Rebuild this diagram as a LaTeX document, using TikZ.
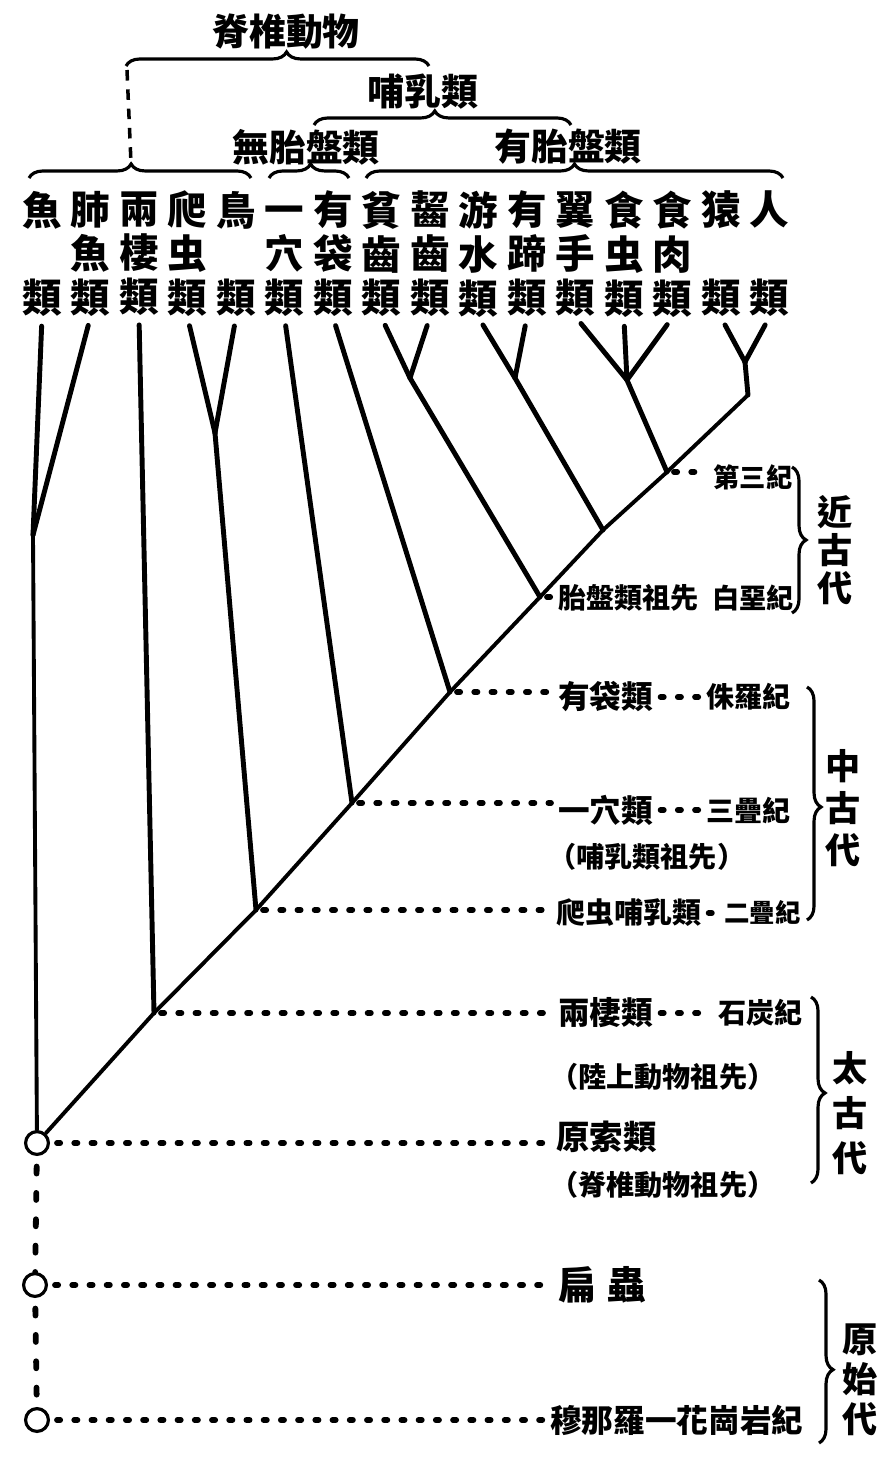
\documentclass[tikz,border=0pt]{standalone}
\usepackage{fontspec}
\newfontfamily\cjk{Noto Sans CJK TC}
\usetikzlibrary{positioning,decorations.pathreplacing}

\begin{document}
\begin{tikzpicture}[x=0.02cm,y=-0.02cm,node distance=0.97cm,
    class/.style={font=\cjk\bfseries\fontsize{22.5}{25}\selectfont,align=center,inner sep=0pt},
    heading/.style={font=\cjk\bfseries\fontsize{21}{23}\selectfont,inner sep=0pt},
    note/.style={font=\cjk\bfseries\fontsize{#1}{19}\selectfont,inner sep=0pt,anchor=west},
    era/.style={font=\cjk\bfseries\fontsize{20}{#1}\selectfont,align=center,inner sep=0pt},
    branch/.style={line width=2.8pt,line cap=round,shorten <=5pt},
    trunk/.style={line width=2.2pt,line cap=round},
    leader/.style={line width=3.3pt,line cap=round,dash pattern=on 1.8pt off 8pt,shorten <=4pt,shorten >=4pt},
    vdash/.style={line width=3.3pt,line cap=round,dash pattern=on 4pt off 11pt,shorten <=6pt},
    bracket/.style={decorate,line width=1.8pt,decoration={brace,amplitude=8pt,aspect=#1}},
    hub/.style={circle,draw,line width=1.8pt,fill=white,minimum size=13pt,inner sep=0pt}]

  \useasboundingbox (0,0) rectangle (896,1461);

  % groups over the classes
  \node[heading] (vertebrata) at (286,32) {脊椎動物};
  \node[heading] (mammalia) at (423,92) {哺乳類};
  \node[heading] (aplacental) at (306,147) {無胎盤類};
  \node[heading] (placental) at (568,147) {有胎盤類};
  \draw[bracket=0.53] (126,66) -- (429,66);
  \draw[bracket=0.47] (314,125) -- (571,125);
  \draw[bracket=0.46] (29,178) -- (251,178);
  \draw[bracket=0.52] (269,178) -- (349,178);
  \draw[bracket=0.5] (366,178) -- (783,178);
  \coordinate (vtop) at (127,70);
  \coordinate (vbot) at (131,163);
  \draw[line width=2pt,dash pattern=on 6pt off 5pt] (vtop) -- (vbot);

  % the classes
  \node[class] (fish) at (42,254) {魚\\\phantom{類}\\類};
  \node[class] (lungfish) [right of=fish] {肺\\魚\\類};
  \node[class] (amphibian) [right of=lungfish] {兩\\棲\\類};
  \node[class] (reptile) [right of=amphibian] {爬\\虫\\類};
  \node[class] (bird) [right of=reptile] {鳥\\\phantom{類}\\類};
  \node[class] (monotreme) [right of=bird] {\vphantom{類}一\\穴\\類};
  \node[class] (marsupial) [right of=monotreme] {有\\袋\\類};
  \node[class] (edentate) [right of=marsupial] {貧\\齒\\類};
  \node[class] (rodent) [right of=edentate] {齧\\齒\\類};
  \node[class] (cetacean) [right of=rodent] {游\\水\\類};
  \node[class] (ungulate) [right of=cetacean] {有\\蹄\\類};
  \node[class] (chiroptera) [right of=ungulate] {翼\\手\\類};
  \node[class] (insectivore) [right of=chiroptera] {食\\虫\\類};
  \node[class] (carnivore) [right of=insectivore] {食\\肉\\類};
  \node[class] (ape) [right of=carnivore] {猿\\\phantom{類}\\類};
  \node[class] (human) [right of=ape] {人\\\phantom{類}\\類};

  % forks and the trunk
  \coordinate (fishfork) at (33,535);
  \coordinate (reptfork) at (215,433);
  \coordinate (gliresfork) at (410,378);
  \coordinate (ungfork) at (515,378);
  \coordinate (insectfork) at (627,380);
  \coordinate (primfork) at (745,362);
  \coordinate (d0) at (748,395);
  \coordinate (d1) at (667,472);
  \coordinate (d2) at (603,530);
  \coordinate (d3) at (540,597);
  \coordinate (d4) at (450,692);
  \coordinate (d5) at (352,803);
  \coordinate (d6) at (256,910);
  \coordinate (d7) at (154,1013);
  \node[hub] (root) at (37,1143) {};
  \node[hub] (flatroot) at (35,1285) {};
  \node[hub] (archroot) at (37,1420) {};

  \draw[branch] (fish.south) -- (fishfork);
  \draw[branch] (lungfish.south) -- (fishfork);
  \draw[trunk] (fishfork) -- (root);
  \draw[branch] (amphibian.south) -- (d7);
  \draw[branch] (reptile.south) -- (reptfork);
  \draw[branch] (bird.south) -- (reptfork);
  \draw[branch,shorten <=0pt] (reptfork) -- (d6);
  \draw[branch] (monotreme.south) -- (d5);
  \draw[branch] (marsupial.south) -- (d4);
  \draw[branch] (edentate.south) -- (gliresfork);
  \draw[branch] (rodent.south) -- (gliresfork);
  \draw[branch,shorten <=0pt] (gliresfork) -- (d3);
  \draw[branch] (cetacean.south) -- (ungfork);
  \draw[branch] (ungulate.south) -- (ungfork);
  \draw[branch,shorten <=0pt] (ungfork) -- (d2);
  \draw[branch] (chiroptera.south) -- (insectfork);
  \draw[branch] (insectivore.south) -- (insectfork);
  \draw[branch] (carnivore.south) -- (insectfork);
  \draw[branch,shorten <=0pt] (insectfork) -- (d1);
  \draw[branch] (ape.south) -- (primfork);
  \draw[branch] (human.south) -- (primfork);
  \draw[branch,shorten <=0pt] (primfork) -- (d0);
  \draw[trunk] (d0) -- (d1) -- (d2) -- (d3) -- (d4) -- (d5) -- (d6) -- (d7) -- (root);
  \draw[vdash] (root) -- (flatroot);
  \draw[vdash] (flatroot) -- (archroot);

  % ancestors and periods
  \node[note=15] (tertiary) at (713,477) {第三紀};
  \node[note=16] (eutheria) at (558,598) {胎盤類祖先};
  \node[note=15.5] (cretaceous) at (712,598) {白堊紀};
  \node[note=18] (marsup) at (558,697) {有袋類};
  \node[note=16] (jurassic) at (706,697) {侏羅紀};
  \node[note=18] (monot) at (558,810) {一穴類};
  \node[note=16] (triassic) at (706,810) {三疊紀};
  \node[note=16] (mamancestor) at (548,857) {（哺乳類祖先）};
  \node[note=16.5] (mamrept) at (556,913) {爬虫哺乳類};
  \node[note=14.5] (permian) at (724,913) {二疊紀};
  \node[note=18] (amphib) at (558,1013) {兩棲類};
  \node[note=16] (carbon) at (718,1013) {石炭紀};
  \node[note=16] (tetrapod) at (550,1077) {（陸上動物祖先）};
  \node[note=19] (protochord) at (556,1137) {原索類};
  \node[note=16] (vertancestor) at (550,1185) {（脊椎動物祖先）};
  \node[note=22] (flatworm) at (558,1285) {扁\hspace{6pt}蟲};
  \node[note=18] (archean) at (550,1420) {穆那羅一花崗岩紀};

  \draw[leader] (d1) -- (d1 -| tertiary.west);
  \draw[leader,shorten >=1pt] (d3) -- (d3 -| eutheria.west);
  \draw[leader] (d4) -- (d4 -| marsup.west);
  \draw[leader] (marsup) -- (jurassic);
  \draw[leader] (d5) -- (d5 -| monot.west);
  \draw[leader] (monot) -- (triassic);
  \draw[leader] (d6) -- (d6 -| mamrept.west);
  \draw[leader] (mamrept) -- (permian);
  \draw[leader] (d7) -- (d7 -| amphib.west);
  \draw[leader] (amphib) -- (carbon);
  \draw[leader] (root) -- (root -| protochord.west);
  \draw[leader] (flatroot) -- (flatroot -| flatworm.west);
  \draw[leader] (archroot) -- (archroot -| archean.west);

  \draw[bracket=0.5] (792,467) -- (792,613);
  \draw[bracket=0.515] (807,687) -- (807,920);
  \draw[bracket=0.516] (811,997) -- (811,1183);
  \draw[bracket=0.55] (819,1280) -- (819,1443);
  \node[era=21.5] (recent) at (835,550) {近\\古\\代};
  \node[era=23.8] (middle) at (843,808) {中\\古\\代};
  \node[era=25.5] (ancient) at (850,1113) {太\\古\\代};
  \node[era=22.7] (primal) at (860,1380) {原\\始\\代};
\end{tikzpicture}
\end{document}
